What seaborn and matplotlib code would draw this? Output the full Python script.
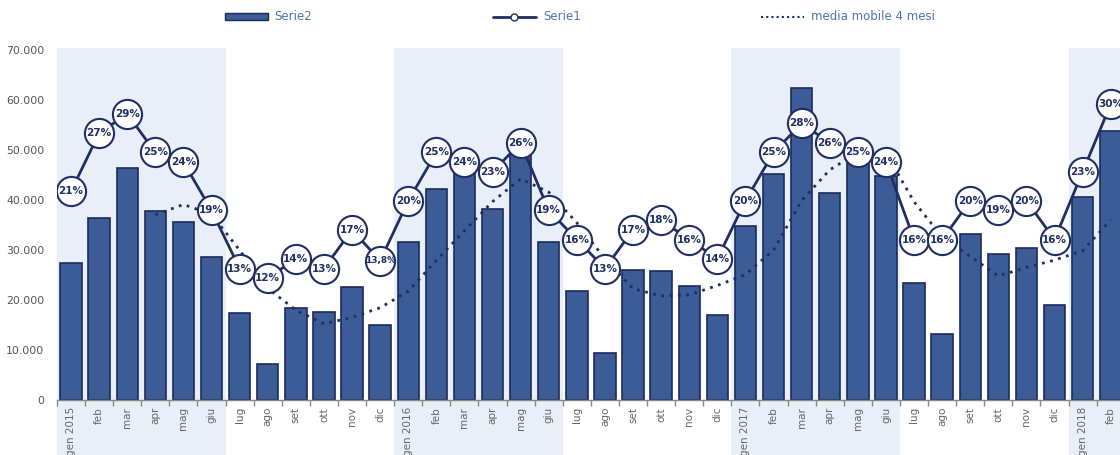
import numpy as np
import pandas as pd
import seaborn as sns
import matplotlib.pyplot as plt
from matplotlib.lines import Line2D
from matplotlib.patches import Patch

# Data
months = ["gen 2015", "feb", "mar", "apr", "mag", "giu", "lug", "ago", "set", "ott", "nov", "dic",
          "gen 2016", "feb", "mar", "apr", "mag", "giu", "lug", "ago", "set", "ott", "nov", "dic",
          "gen 2017", "feb", "mar", "apr", "mag", "giu", "lug", "ago", "set", "ott", "nov", "dic",
          "gen 2018", "feb"]

serie2 = [27500, 36500, 46400, 37800, 35700, 28700, 17500, 7300, 18500, 17600, 22700, 15000,
          31700, 42300, 46400, 38300, 49900, 31700, 21900, 9500, 26000, 25800, 22800, 17000,
          34800, 45300, 62500, 41500, 48800, 44800, 23500, 13300, 33200, 29200, 30400, 19100,
          40700, 53800]

serie1 = [21, 27, 29, 25, 24, 19, 13, 12, 14, 13, 17, 13.8,
          20, 25, 24, 23, 26, 19, 16, 13, 17, 18, 16, 14,
          20, 25, 28, 26, 25, 24, 16, 16, 20, 19, 20, 16,
          23, 30]

serie1_labels = ["21%", "27%", "29%", "25%", "24%", "19%", "13%", "12%", "14%", "13%", "17%", "13,8%",
                 "20%", "25%", "24%", "23%", "26%", "19%", "16%", "13%", "17%", "18%", "16%", "14%",
                 "20%", "25%", "28%", "26%", "25%", "24%", "16%", "16%", "20%", "19%", "20%", "16%",
                 "23%", "30%"]

# first half of each year is shaded
shaded_starts = [0, 12, 24, 36]

bar_color = "#3b5c96"
edge_color = "#1c2b5a"
line_color = "#1f2f63"
text_color = "#4f74b0"

df = pd.DataFrame({"pos": np.arange(len(months)), "mese": months,
                   "serie2": serie2, "serie1": serie1})
df["media"] = df["serie2"].rolling(4).mean()

sns.set_theme(style="white")
plt.rcParams["font.family"] = ["DejaVu Sans"]

fig = plt.figure(figsize=(11.2, 4.55), dpi=100)
ax = fig.add_axes([57 / 1120, 55 / 455, 1063 / 1120, 350 / 455])

# shaded bands (go down behind the tick labels)
for s in shaded_starts:
    ax.axvspan(s - 0.5, s + 5.5, ymin=-0.16, ymax=1.006, color="#e8eff9",
               zorder=0, clip_on=False, lw=0)

sns.barplot(data=df, x="pos", y="serie2", color=bar_color, edgecolor=edge_color,
            linewidth=1.2, width=0.76, saturation=1, ax=ax, zorder=2)

sns.lineplot(data=df, x="pos", y="media", color=line_color, linestyle=(0, (1, 2)),
             lw=2, ax=ax, zorder=3)

ax.set_xlim(-0.5, 37.33)
ax.set_ylim(0, 70000)
ax.set_yticks(np.arange(0, 70001, 10000))
ax.set_yticklabels([f"{v:,.0f}".replace(",", ".") for v in np.arange(0, 70001, 10000)],
                   fontsize=7.8, color="#555555")
ax.set_xticks(df["pos"])
ax.set_xticklabels(months, rotation=90, fontsize=7.5, color="#666666")
ax.set_xticks(np.arange(-0.5, 38, 1), minor=True)
ax.tick_params(axis="x", which="major", length=0, pad=5)
ax.tick_params(axis="x", which="minor", length=4, color="#888888", width=1, bottom=True)
ax.tick_params(axis="y", length=0, pad=9)
ax.set_xlabel("")
ax.set_ylabel("")
for side in ["left", "right", "top"]:
    ax.spines[side].set_visible(False)
ax.spines["bottom"].set_color("#888888")
ax.spines["bottom"].set_linewidth(1)

# percentages on a hidden second axis
ax2 = ax.twinx()
sns.lineplot(data=df, x="pos", y="serie1", color=line_color, lw=2, marker="o",
             markersize=21, markerfacecolor="white", markeredgecolor=line_color,
             markeredgewidth=1.5, ax=ax2, zorder=4)
for x, y, lab in zip(df["pos"], df["serie1"], serie1_labels):
    ax2.text(x, y, lab, ha="center", va="center", fontsize=7.5 if "," not in lab else 6.5,
             color=line_color, fontweight="bold", zorder=5)
ax2.set_ylim(-0.6, 35.6)
ax2.set_xlim(-0.5, 37.33)
ax2.axis("off")

# legend along the top
handles = [Patch(facecolor=bar_color, edgecolor=edge_color),
           Line2D([], [], color=line_color, lw=2, marker="o", markersize=5,
                  markerfacecolor="white", markeredgecolor=line_color),
           Line2D([], [], color=line_color, lw=1.5, linestyle=(0, (1, 1.5)))]
leg = fig.legend(handles, ["Serie2", "Serie1", "media mobile 4 mesi"], ncol=3,
                 loc="center left", bbox_to_anchor=(225 / 1120, 1 - 17 / 455, 710 / 1120, 0),
                 mode="expand", frameon=False, fontsize=8.5, handlelength=3.6,
                 handleheight=0.6, handletextpad=0.6, borderaxespad=0, borderpad=0)
for t in leg.get_texts():
    t.set_color(text_color)

fig.savefig("out.png", dpi=100)
